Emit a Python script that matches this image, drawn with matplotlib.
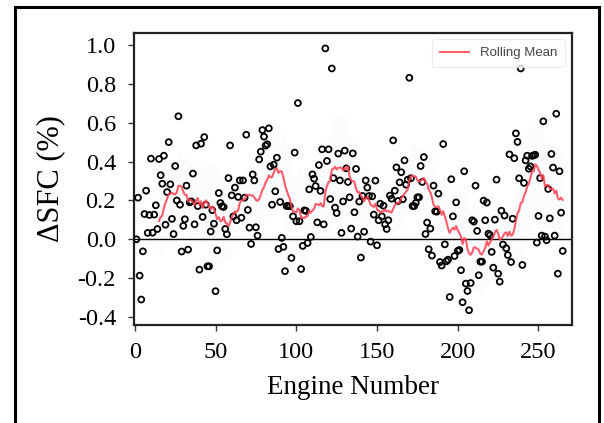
import numpy as np
import pandas as pd
import matplotlib
matplotlib.use("Agg")
import matplotlib.pyplot as plt
from matplotlib.lines import Line2D

# ΔSFC values per engine in engine order
delta_sfc = [
    0.0, 0.214, -0.187, -0.31, -0.062, 0.13, 0.25, 0.033, 0.125, 0.415,
    0.034, 0.127, 0.175, 0.053, 0.413, 0.33, 0.286, 0.43, 0.075, 0.243,
    0.5, 0.283, 0.105, 0.027, 0.377, 0.2, 0.633, 0.178, -0.063, 0.069,
    0.103, 0.276, -0.053, 0.19, 0.195, 0.338, 0.077, 0.483, 0.171, -0.156,
    0.492, 0.115, 0.526, 0.178, -0.139, -0.139, 0.04, 0.15, 0.08, -0.267,
    -0.057, 0.238, 0.187, 0.17, 0.166, 0.053, 0.026, 0.315, 0.483, 0.226,
    0.118, 0.266, 0.098, 0.218, 0.303, 0.111, 0.303, 0.214, 0.538, 0.151,
    0.06, -0.024, 0.334, 0.303, 0.062, 0.019, 0.411, 0.451, 0.562, 0.528,
    0.482, 0.489, 0.571, 0.375, 0.178, 0.384, 0.247, 0.42, -0.05, 0.192,
    0.007, -0.039, -0.164, 0.171, 0.171, 0.17, -0.096, 0.118, 0.446, 0.093,
    0.701, 0.093, -0.153, -0.034, 0.149, 0.146, -0.019, 0.257, 0.012, 0.334,
    0.312, 0.274, 0.087, 0.382, 0.249, 0.463, 0.077, 0.982, 0.403, 0.463,
    0.207, 0.879, 0.315, 0.163, 0.135, 0.441, 0.303, 0.033, 0.195, 0.456,
    0.365, 0.295, 0.216, 0.055, 0.442, 0.139, 0.362, 0.014, 0.194, -0.094,
    0.223, 0.039, 0.303, 0.266, 0.223, -0.012, 0.221, 0.127, 0.302, -0.031,
    0.098, 0.183, 0.118, 0.173, 0.077, 0.053, 0.098, 0.225, 0.209, 0.509,
    0.25, 0.37, 0.197, 0.293, 0.345, 0.206, 0.406, 0.281, 0.307, 0.831,
    0.314, 0.171, 0.171, 0.187, 0.216, 0.216, 0.377, 0.295, 0.423, 0.027,
    0.086, -0.051, 0.055, -0.084, 0.276, 0.144, 0.142, 0.235, -0.117, -0.135,
    0.49, -0.026, -0.113, -0.105, -0.297, 0.309, 0.118, -0.086, 0.19, -0.06,
    -0.055, -0.159, -0.324, 0.35, -0.228, -0.266, -0.365, -0.225, 0.098, 0.091,
    0.276, 0.043, -0.185, -0.115, -0.115, 0.199, 0.098, 0.189, 0.029, 0.021,
    -0.065, -0.146, 0.101, 0.307, -0.177, -0.218, 0.147, -0.027, 0.122, -0.046,
    -0.081, 0.437, -0.117, 0.106, 0.417, 0.545, 0.501, 0.314, 0.879, -0.132,
    0.29, 0.406, 0.43, 0.363, 0.375, 0.429, 0.432, 0.435, -0.017, 0.12,
    0.315, 0.019, 0.607, 0.014, -0.005, 0.259, 0.108, 0.439, 0.369, 0.019,
    0.646, -0.177, 0.35, 0.137, -0.06,
]
engine_number = np.arange(1, len(delta_sfc) + 1)

WINDOW = 15
x_ticks = [0, 50, 100, 150, 200, 250]
y_ticks = [-0.4, -0.2, 0.0, 0.2, 0.4, 0.6, 0.8, 1.0]

series = pd.Series(delta_sfc, index=engine_number)
roll_mean = series.rolling(WINDOW).mean()
roll_std = series.rolling(WINDOW).std()

serif = ["Liberation Serif", "DejaVu Serif"]

fig = plt.figure(figsize=(6.04, 4.23), dpi=100)
ax = fig.add_axes([134 / 604, 1 - 325 / 423, 437.6 / 604, 292.3 / 423])

# слабая полоса разброса вокруг скользящего среднего
ax.fill_between(engine_number, roll_mean - roll_std, roll_mean + roll_std,
                color="#9fd3ea", alpha=0.05, linewidth=0)
ax.axhline(0, color="black", lw=1.0, zorder=1)
ax.scatter(engine_number, delta_sfc, s=18, facecolors="none",
           edgecolors="black", linewidths=1.3, zorder=3)
ax.plot(engine_number, roll_mean, color="#ff4050", alpha=0.85, lw=1.5,
        label="Rolling Mean", zorder=4)

ax.set_xlim(-0.5, 270.5)
ax.set_ylim(-0.441, 1.063)
ax.set_xticks(x_ticks)
ax.set_yticks(y_ticks)
ax.set_yticklabels([f"{v:.1f}" for v in y_ticks])
ax.tick_params(length=4, width=1, color="#333333", labelsize=17.5)
ax.tick_params(axis="x", pad=8)
ax.tick_params(axis="y", pad=9)
for lab in ax.get_xticklabels() + ax.get_yticklabels():
    lab.set_family(serif)
for sp in ax.spines.values():
    sp.set_linewidth(1.6)
    sp.set_color("#222222")

ax.set_xlabel("Engine Number", fontsize=19.5, family=serif, labelpad=9)
ax.set_ylabel("ΔSFC (%)", fontsize=22, family=serif, labelpad=9)

leg = ax.legend(loc="upper right", frameon=True, fancybox=True,
                handlelength=2.2, borderpad=0.6,
                prop={"family": ["Liberation Sans", "DejaVu Sans"], "size": 9.5})
leg.get_frame().set_edgecolor("#e6e6e6")
leg.get_frame().set_linewidth(0.8)
for t in leg.get_texts():
    t.set_color("#444444")

# внешняя рамка вокруг рисунка
for xs, ys in [([15, 599], [7, 7]), ([599, 599], [7, 423]), ([15, 15], [7, 423])]:
    fig.add_artist(Line2D([x / 604 for x in xs], [1 - y / 423 for y in ys],
                          color="black", lw=2.2, transform=fig.transFigure))

fig.savefig("out.png", dpi=100)
